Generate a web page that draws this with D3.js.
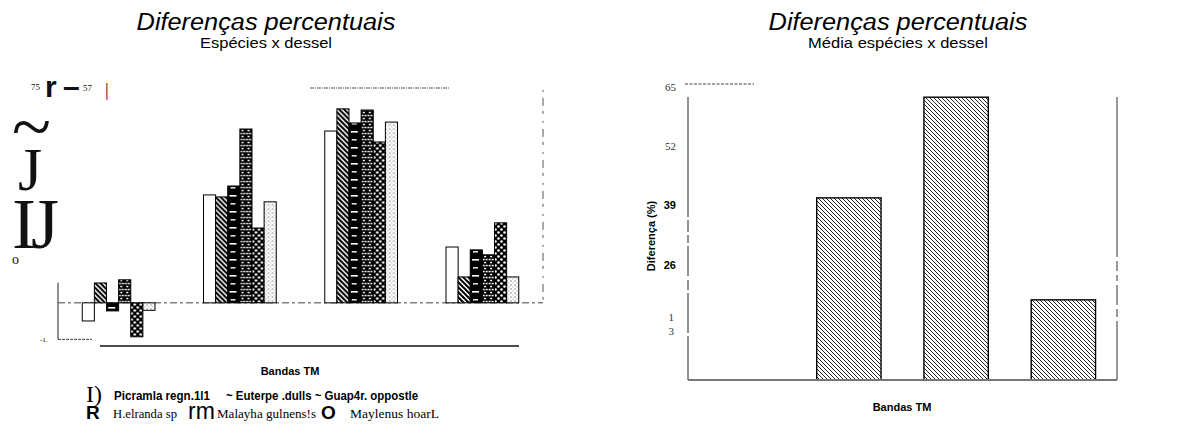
<!DOCTYPE html>
<html>
<head>
<meta charset="utf-8">
<script src="https://cdn.jsdelivr.net/npm/d3@7"></script>
<style>
  html, body { margin: 0; padding: 0; background: #fff; }
  svg { display: block; }
</style>
</head>
<body>
<svg id="chart" width="1197" height="433"></svg>
<script>
// ---------------- DATA ----------------
const bands = ["TM1", "TM2", "TM3", "TM4"];          // "Bandas TM" (unlabelled on the chart)
const species = ["Picramla regn.1l1", "Euterpe .dulls", "Guap4r. oppostle",
                 "H.elranda sp", "Malayha gulnens!s", "Maylenus hoarL"];
// percent differences per species, one value per band
const picramia  = [-6.3, 37.5, 59.7, 19.4];
const euterpe   = [ 6.9, 36.8, 67.4,  9.0];
const guapira   = [-2.8, 40.6, 62.5, 18.4];
const helianda  = [ 8.0, 60.4, 67.0, 16.7];
const malayba   = [-11.8, 26.0, 55.9, 27.8];
const maylenus  = [-2.6, 35.1, 62.8,  9.0];
// mean of species per band
const meanValues = [-1.4, 40.0, 62.1, 17.6];
// tick labels
const rightTicks = [65, 52, 39, 26, 13];
const leftTickTexts = ["75", "57", "-1."];

const seriesValues = [picramia, euterpe, guapira, helianda, malayba, maylenus];

// ---------------- SETUP ----------------
const svg = d3.select("#chart");
const defs = svg.append("defs");

function pat(id, w, h, build) {
  const p = defs.append("pattern").attr("id", id)
    .attr("patternUnits", "userSpaceOnUse").attr("width", w).attr("height", h);
  build(p);
}
pat("pWhite", 4, 4, p => p.append("rect").attr("width", 4).attr("height", 4).attr("fill", "#fff"));
pat("pHatchBold", 5, 5, p => {
  p.append("rect").attr("width", 5).attr("height", 5).attr("fill", "#fff");
  p.append("path").attr("d", "M-1,-1 L6,6 M-1,4 L1,6 M4,-1 L6,1")
    .attr("stroke", "#000").attr("stroke-width", 2);
});
pat("pBlackDash", 12, 16, p => {
  p.append("rect").attr("width", 12).attr("height", 16).attr("fill", "#000");
  p.append("rect").attr("x", 2).attr("y", 3).attr("width", 7).attr("height", 1.6).attr("fill", "#fff");
  p.append("rect").attr("x", 3).attr("y", 11).attr("width", 5).attr("height", 1.6).attr("fill", "#ddd");
});
pat("pBrick", 6, 6, p => {
  p.append("rect").attr("width", 6).attr("height", 6).attr("fill", "#000");
  p.append("rect").attr("x", 0.6).attr("y", 0.8).attr("width", 2).attr("height", 1.5).attr("fill", "#fff");
  p.append("rect").attr("x", 3.6).attr("y", 0.8).attr("width", 2).attr("height", 1.5).attr("fill", "#fff");
  p.append("rect").attr("x", 2.1).attr("y", 3.8).attr("width", 2).attr("height", 1.5).attr("fill", "#fff");
});
pat("pChecker", 6, 6, p => {
  p.append("rect").attr("width", 6).attr("height", 6).attr("fill", "#000");
  p.append("circle").attr("cx", 1.5).attr("cy", 1.5).attr("r", 1.3).attr("fill", "#fff");
  p.append("circle").attr("cx", 4.5).attr("cy", 4.5).attr("r", 1.3).attr("fill", "#fff");
});
pat("pDots", 4, 4, p => {
  p.append("rect").attr("width", 4).attr("height", 4).attr("fill", "#fff");
  p.append("rect").attr("x", 0.5).attr("y", 0.5).attr("width", 1).attr("height", 1).attr("fill", "#222");
  p.append("rect").attr("x", 2.5).attr("y", 2.5).attr("width", 0.8).attr("height", 0.8).attr("fill", "#555");
});
pat("pHatchLight", 4, 4, p => {
  p.append("rect").attr("width", 4).attr("height", 4).attr("fill", "#fff");
  p.append("path").attr("d", "M-1,-1 L5,5 M-1,3 L1,5 M3,-1 L5,1")
    .attr("stroke", "#111").attr("stroke-width", 0.9);
});
const fills = ["url(#pWhite)", "url(#pHatchBold)", "url(#pBlackDash)",
               "url(#pBrick)", "url(#pChecker)", "url(#pDots)"];

const sans = "'Liberation Sans', Arial, sans-serif";
const serif = "'Liberation Serif', 'Times New Roman', serif";
const narrow = "'Liberation Sans Narrow', 'Liberation Sans', Arial, sans-serif";

// horizontally widen a text (the scanned figure is slightly stretched)
function widen(sel, k) {
  sel.each(function () {
    const w = this.getComputedTextLength();
    d3.select(this).attr("textLength", w * k).attr("lengthAdjust", "spacingAndGlyphs");
  });
  return sel;
}

// ---------------- LEFT CHART ----------------
const L = { left: 58, right: 543 };
const x0 = d3.scaleBand().domain(bands).range([L.left, L.right]).paddingInner(0.4).paddingOuter(0.2);
const x1 = d3.scaleBand().domain(d3.range(species.length)).range([0, x0.bandwidth()]);
const yL = d3.scaleLinear().domain([-15, 75]).range([346, 87]);

const gl = svg.append("g");
widen(gl.append("text").attr("x", 266).attr("y", 30).attr("text-anchor", "middle")
  .attr("font-family", sans).attr("font-style", "italic").attr("font-size", 23)
  .text("Diferenças percentuais"), 1.1);
widen(gl.append("text").attr("x", 266).attr("y", 48).attr("text-anchor", "middle")
  .attr("font-family", sans).attr("font-size", 15).text("Espécies x dessel"), 1.1);

// frame pieces
gl.append("line").attr("x1", L.left).attr("x2", L.left).attr("y1", yL(7)).attr("y2", yL(-12.7))
  .attr("stroke", "#222").attr("stroke-width", 1);
gl.append("line").attr("x1", L.left).attr("x2", L.right).attr("y1", yL(0)).attr("y2", yL(0))
  .attr("stroke", "#444").attr("stroke-width", 1).attr("stroke-dasharray", "7,3,3,3");
gl.append("line").attr("x1", L.right).attr("x2", L.right).attr("y1", yL(74)).attr("y2", yL(0))
  .attr("stroke", "#555").attr("stroke-width", 1).attr("stroke-dasharray", "2,6,8,5,3,7");
gl.append("line").attr("x1", L.left).attr("x2", 92).attr("y1", yL(-12.7)).attr("y2", yL(-12.7))
  .attr("stroke", "#444").attr("stroke-width", 1).attr("stroke-dasharray", "3,1");
gl.append("line").attr("x1", 100).attr("x2", 519).attr("y1", yL(-15)).attr("y2", yL(-15))
  .attr("stroke", "#111").attr("stroke-width", 1.3);
gl.append("line").attr("x1", 310).attr("x2", 450).attr("y1", yL(75) + 1).attr("y2", yL(75) + 1)
  .attr("stroke", "#555").attr("stroke-width", 1).attr("stroke-dasharray", "4,1,1,1");

// bars
const groupsSel = gl.selectAll("g.grp").data(bands).join("g").attr("class", "grp")
  .attr("transform", d => `translate(${x0(d)},0)`);
groupsSel.selectAll("rect").data((d, gi) => seriesValues.map((s, si) => ({ si, v: s[gi] })))
  .join("rect")
  .attr("x", d => x1(d.si))
  .attr("width", x1.bandwidth())
  .attr("y", d => yL(Math.max(0, d.v)))
  .attr("height", d => Math.abs(yL(d.v) - yL(0)))
  .attr("fill", d => fills[d.si])
  .attr("stroke", "#000").attr("stroke-width", 1);

// garbled y-axis remnants (as printed) — each line kept as one text element
const topGarble = gl.append("text").attr("font-family", serif).attr("fill", "#111");
topGarble.append("tspan").attr("x", 31).attr("y", yL(75) + 3).attr("font-size", 9).text(leftTickTexts[0]);
topGarble.append("tspan").attr("x", 45).attr("y", yL(75) + 10).attr("font-family", sans)
  .attr("font-weight", "bold").attr("font-size", 30).text("r");
topGarble.append("tspan").attr("x", 63).attr("y", yL(75) + 10).attr("font-family", sans)
  .attr("font-weight", "bold").attr("font-size", 30).text("–");
topGarble.append("tspan").attr("x", 83).attr("y", yL(75) + 4).attr("font-size", 9).text(leftTickTexts[1]);
topGarble.append("tspan").attr("x", 105).attr("y", yL(75) + 9).attr("font-size", 18).text("|");

const sideGarble = gl.append("text").attr("font-family", serif).attr("fill", "#111");
sideGarble.append("tspan").attr("x", 12).attr("y", 151).attr("font-size", 72).text("~");
sideGarble.append("tspan").attr("x", 18).attr("y", 190).attr("font-size", 62).text("J");
sideGarble.append("tspan").attr("x", 12).attr("y", 248).attr("font-size", 72).attr("letter-spacing", -5).text("IJ");
sideGarble.append("tspan").attr("x", 12).attr("y", 264).attr("font-size", 14).attr("letter-spacing", 0).text("o");

gl.append("text").attr("x", 40).attr("y", yL(-15) - 4).attr("font-family", serif)
  .attr("font-size", 7).text(leftTickTexts[2]);

gl.append("text").attr("x", 290).attr("y", 375).attr("text-anchor", "middle")
  .attr("font-family", sans).attr("font-weight", "bold").attr("font-size", 11).text("Bandas TM");

// legend (glyphs as they appear)
const legendGlyphs = [
  { t: "I)", x: 86, y: 402, f: serif, s: 24, w: "normal" },
  { t: "R",  x: 86, y: 419, f: sans,  s: 19, w: "bold" },
  { t: "rm", x: 188, y: 419, f: sans, s: 23, w: "normal" },
  { t: "O",  x: 321, y: 419, f: sans, s: 19, w: "bold" }
];
gl.selectAll("text.lg").data(legendGlyphs).join("text").attr("class", "lg")
  .attr("x", d => d.x).attr("y", d => d.y).attr("font-family", d => d.f)
  .attr("font-size", d => d.s).attr("font-weight", d => d.w).text(d => d.t);
const legendTexts = [
  { t: species[0], x: 114, y: 400, f: narrow, s: 12, w: "bold", len: 96 },
  { t: "~ " + species[1] + " ~ " + species[2], x: 226, y: 400, f: narrow, s: 12, w: "bold", len: 192 },
  { t: species[3], x: 113, y: 418, f: serif, s: 12.5, w: "normal", len: 64 },
  { t: species[4], x: 217, y: 418, f: serif, s: 12.5, w: "normal", len: 99 },
  { t: species[5], x: 350, y: 418, f: serif, s: 12.5, w: "normal", len: 89 }
];
gl.selectAll("text.lt").data(legendTexts).join("text").attr("class", "lt")
  .attr("x", d => d.x).attr("y", d => d.y).attr("font-family", d => d.f)
  .attr("font-size", d => d.s).attr("font-weight", d => d.w)
  .attr("textLength", d => d.len).attr("lengthAdjust", "spacingAndGlyphs").text(d => d.t);

// ---------------- RIGHT CHART ----------------
const R = { left: 688, right: 1117, top: 97, bottom: 380 };
const xR = d3.scaleBand().domain(bands).range([R.left, R.right]).paddingInner(0.4).paddingOuter(0.2);
const yR = d3.scaleLinear().domain([0, 65]).range([R.bottom, 84]).clamp(true);

const gr = svg.append("g");
widen(gr.append("text").attr("x", 898).attr("y", 30).attr("text-anchor", "middle")
  .attr("font-family", sans).attr("font-style", "italic").attr("font-size", 23)
  .text("Diferenças percentuais"), 1.1);
widen(gr.append("text").attr("x", 898).attr("y", 48).attr("text-anchor", "middle")
  .attr("font-family", sans).attr("font-size", 15).text("Média espécies x dessel"), 1.1);

gr.append("line").attr("x1", R.left).attr("x2", R.left).attr("y1", R.top).attr("y2", R.bottom)
  .attr("stroke", "#222").attr("stroke-width", 1).attr("stroke-dasharray", "120,3,12,3,8,3,30,4,10,3,40,3");
gr.append("line").attr("x1", R.right).attr("x2", R.right).attr("y1", R.top).attr("y2", R.bottom)
  .attr("stroke", "#333").attr("stroke-width", 1).attr("stroke-dasharray", "160,4,10,4,6,4,20,4,8,4");
gr.append("line").attr("x1", 685).attr("x2", 754).attr("y1", yR(65)).attr("y2", yR(65))
  .attr("stroke", "#444").attr("stroke-width", 1).attr("stroke-dasharray", "3,1.5");

gr.selectAll("rect.bar").data(meanValues.map((v, i) => ({ b: bands[i], v })))
  .join("rect").attr("class", "bar")
  .attr("x", d => xR(d.b)).attr("width", xR.bandwidth())
  .attr("y", d => yR(d.v)).attr("height", d => yR(0) - yR(d.v))
  .attr("fill", "url(#pHatchLight)").attr("stroke", "#000").attr("stroke-width", 1.4)
  .attr("display", d => d.v > 0 ? null : "none");

gr.append("line").attr("x1", R.left).attr("x2", R.right).attr("y1", R.bottom).attr("y2", R.bottom)
  .attr("stroke", "#777").attr("stroke-width", 2);

const yAxis = d3.axisLeft(yR).tickValues(rightTicks).tickSize(0).tickPadding(12);
const ya = gr.append("g").attr("transform", `translate(${R.left},3)`).call(yAxis);
ya.select(".domain").remove();
ya.selectAll(".tick text")
  .attr("font-family", d => (d === 39 || d === 26) ? narrow : serif)
  .attr("font-weight", d => (d === 39 || d === 26) ? "bold" : "normal")
  .attr("font-size", 11).attr("fill", d => (d === 39 || d === 26) ? "#000" : "#333")
  .each(function (d) {
    if (d === 13) {
      const t = d3.select(this).text(null);
      t.append("tspan").attr("x", -14).attr("dy", "-0.3em").text("1");
      t.append("tspan").attr("x", -14).attr("dy", "1.3em").text("3");
    }
  });

gr.append("text").attr("transform", "translate(655,236) rotate(-90)").attr("text-anchor", "middle")
  .attr("font-family", sans).attr("font-weight", "bold").attr("font-size", 11).text("Diferença (%)");
gr.append("text").attr("x", 902).attr("y", 411).attr("text-anchor", "middle")
  .attr("font-family", sans).attr("font-weight", "bold").attr("font-size", 11).text("Bandas TM");
</script>
</body>
</html>
